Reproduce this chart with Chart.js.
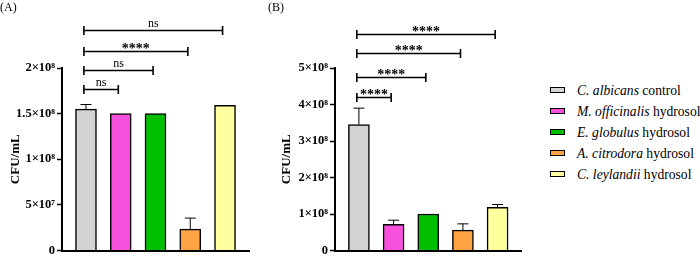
<!DOCTYPE html>
<html><head><meta charset="utf-8">
<script src="https://cdn.jsdelivr.net/npm/chart.js@4"></script>
<style>
body{margin:0;background:#fff;width:700px;height:260px;position:relative;overflow:hidden;font-family:"Liberation Serif","Times New Roman",serif;color:#000}
#wa{position:absolute;left:0;top:0;width:265px;height:260px}
#wb{position:absolute;left:268px;top:0;width:262px;height:260px}
#legend{position:absolute;left:550px;top:0;width:150px;height:260px}
.row{position:absolute;left:0;height:16px;white-space:nowrap;font-size:13.6px;line-height:16px}
.sw{position:absolute;left:0;top:4px;width:13px;height:4px;border:1.5px solid #000}
.tx{position:absolute;left:27px;top:0}
.tx i{font-style:italic}
</style>
</head><body>
<div id="wa"><canvas id="ca"></canvas></div>
<div id="wb"><canvas id="cb"></canvas></div>
<div id="legend"></div>
<script>
// ---- data ----
const speciesNames = ["C. albicans", "M. officinalis", "E. globulus", "A. citrodora", "C. leylandii"];
const speciesSuffix = ["control", "hydrosol", "hydrosol", "hydrosol", "hydrosol"];
const categories = speciesNames.map((n, i) => n + " " + speciesSuffix[i]);
const barColors = ["#d3d3d3", "#f54fdb", "#00bf00", "#ffa345", "#ffff9e"];

const valuesA = [1.55e8, 1.50e8, 1.50e8, 2.35e7, 1.59e8];
const errorsA = [5e6, 0, 0, 1.2e7, 0];
const sigA = ["ns", "ns", "****", "ns"];
const ticksA = ["0", "5×10⁷", "1×10⁸", "1.5×10⁸", "2×10⁸"];

const valuesB = [3.45e8, 7.2e7, 1.0e8, 5.6e7, 1.18e8];
const errorsB = [4.5e7, 1.1e7, 0, 1.7e7, 8e6];
const sigB = ["****", "****", "****", "****"];
const ticksB = ["0", "1×10⁸", "2×10⁸", "3×10⁸", "4×10⁸", "5×10⁸"];

const FONT = "Liberation Serif";

// error bars + significance brackets
const annotPlugin = {
  id: 'annot',
  afterDatasetsDraw(chart, args, o) {
    const ctx = chart.ctx, xs = chart.scales.x, ys = chart.scales.y;
    ctx.save();
    ctx.strokeStyle = '#000';
    ctx.fillStyle = '#000';
    // error bars
    ctx.lineWidth = 1;
    o.values.forEach((v, i) => {
      const e = o.errors[i];
      if (!e) return;
      const x = xs.getPixelForValue(i);
      const y0 = ys.getPixelForValue(v), y1 = ys.getPixelForValue(v + e);
      ctx.beginPath();
      ctx.moveTo(x, y0); ctx.lineTo(x, y1);
      ctx.moveTo(x - 5.5, y1); ctx.lineTo(x + 5.5, y1);
      ctx.stroke();
    });
    // brackets
    ctx.lineWidth = 1.6;
    o.sig.forEach((s, k) => {
      const j = k + 1;
      const xl = xs.getPixelForValue(-0.06), xr = xs.getPixelForValue(j - 0.07);
      const y = Math.round(ys.getPixelForValue(o.levels[k])) + 0.5;
      ctx.beginPath();
      ctx.moveTo(xl, y); ctx.lineTo(xr, y);
      ctx.moveTo(xl, y - 4.5); ctx.lineTo(xl, y + 4.5);
      ctx.moveTo(xr, y - 4.5); ctx.lineTo(xr, y + 4.5);
      ctx.stroke();
      ctx.textAlign = 'center';
      ctx.textBaseline = 'alphabetic';
      if (s === 'ns') {
        ctx.font = '12px "' + FONT + '"';
        ctx.fillText(s, (xl + xr) / 2, y - 4);
      } else {
        ctx.font = 'bold 14px "' + FONT + '"';
        ctx.fillText(s, (xl + xr) / 2, y + 1);
      }
    });
    ctx.restore();
  }
};

function makePanel(id, opt) {
  new Chart(document.getElementById(id), {
    type: 'bar',
    data: {
      datasets: [{
        data: opt.values.map((v, i) => ({x: i, y: v})),
        backgroundColor: barColors,
        borderColor: '#000',
        borderWidth: 1.5,
        barThickness: 21
      }]
    },
    plugins: [annotPlugin],
    options: {
      responsive: true,
      maintainAspectRatio: false,
      animation: false,
      layout: {padding: {left: 0, right: opt.padRight, top: 0, bottom: 5}},
      plugins: {
        legend: {display: false},
        tooltip: {enabled: false},
        title: {
          display: true, text: opt.title, align: 'start', color: '#000',
          font: {family: FONT, size: 12, weight: 'normal'},
          padding: {top: 1, bottom: 52.6}
        },
        annot: {values: opt.values, errors: opt.errors, sig: opt.sig, levels: opt.levels}
      },
      scales: {
        x: {
          type: 'linear', min: -0.69, max: 4.69, offset: false,
          ticks: {display: false},
          grid: {display: false, drawTicks: false, offset: false},
          border: {display: true, color: '#000', width: 2},
          afterFit: s => { s.height = 0; }
        },
        y: {
          min: 0, max: opt.max,
          ticks: {
            stepSize: opt.step, padding: 2, color: '#000',
            font: {family: FONT, size: 12.5, weight: 'bold'},
            callback: v => opt.tickLabels[Math.round(v / opt.step)]
          },
          grid: {drawOnChartArea: false, drawTicks: true, tickLength: 5, tickWidth: 1.5, tickColor: '#000'},
          border: {display: true, color: '#000', width: 2},
          title: {
            display: true, text: 'CFU/mL', color: '#000',
            font: {family: FONT, size: 13, weight: 'bold'},
            padding: {top: opt.titlePad, bottom: 0}
          },
          afterFit: s => { s.width = opt.axisLeft; }
        }
      }
    }
  });
}

makePanel('ca', {values: valuesA, errors: errorsA, sig: sigA, tickLabels: ticksA, max: 2e8, step: 5e7,
  title: '(A)', levels: [1.775e8, 1.979e8, 2.19e8, 2.417e8], axisLeft: 62, padRight: 16, titlePad: 8});
makePanel('cb', {values: valuesB, errors: errorsB, sig: sigB, tickLabels: ticksB, max: 5e8, step: 1e8,
  title: '(B)', levels: [4.2e8, 4.76e8, 5.4e8, 5.94e8], axisLeft: 67, padRight: 8.5, titlePad: 11});

// legend
const leg = document.getElementById('legend');
categories.forEach((c, i) => {
  const r = document.createElement('div');
  r.className = 'row';
  r.style.top = (83 + i * 21) + 'px';
  r.innerHTML = '<div class="sw" style="background:' + barColors[i] + '"></div>' +
    '<div class="tx"><i>' + speciesNames[i] + '</i> ' + speciesSuffix[i] + '</div>';
  leg.appendChild(r);
});
</script>
</body></html>
